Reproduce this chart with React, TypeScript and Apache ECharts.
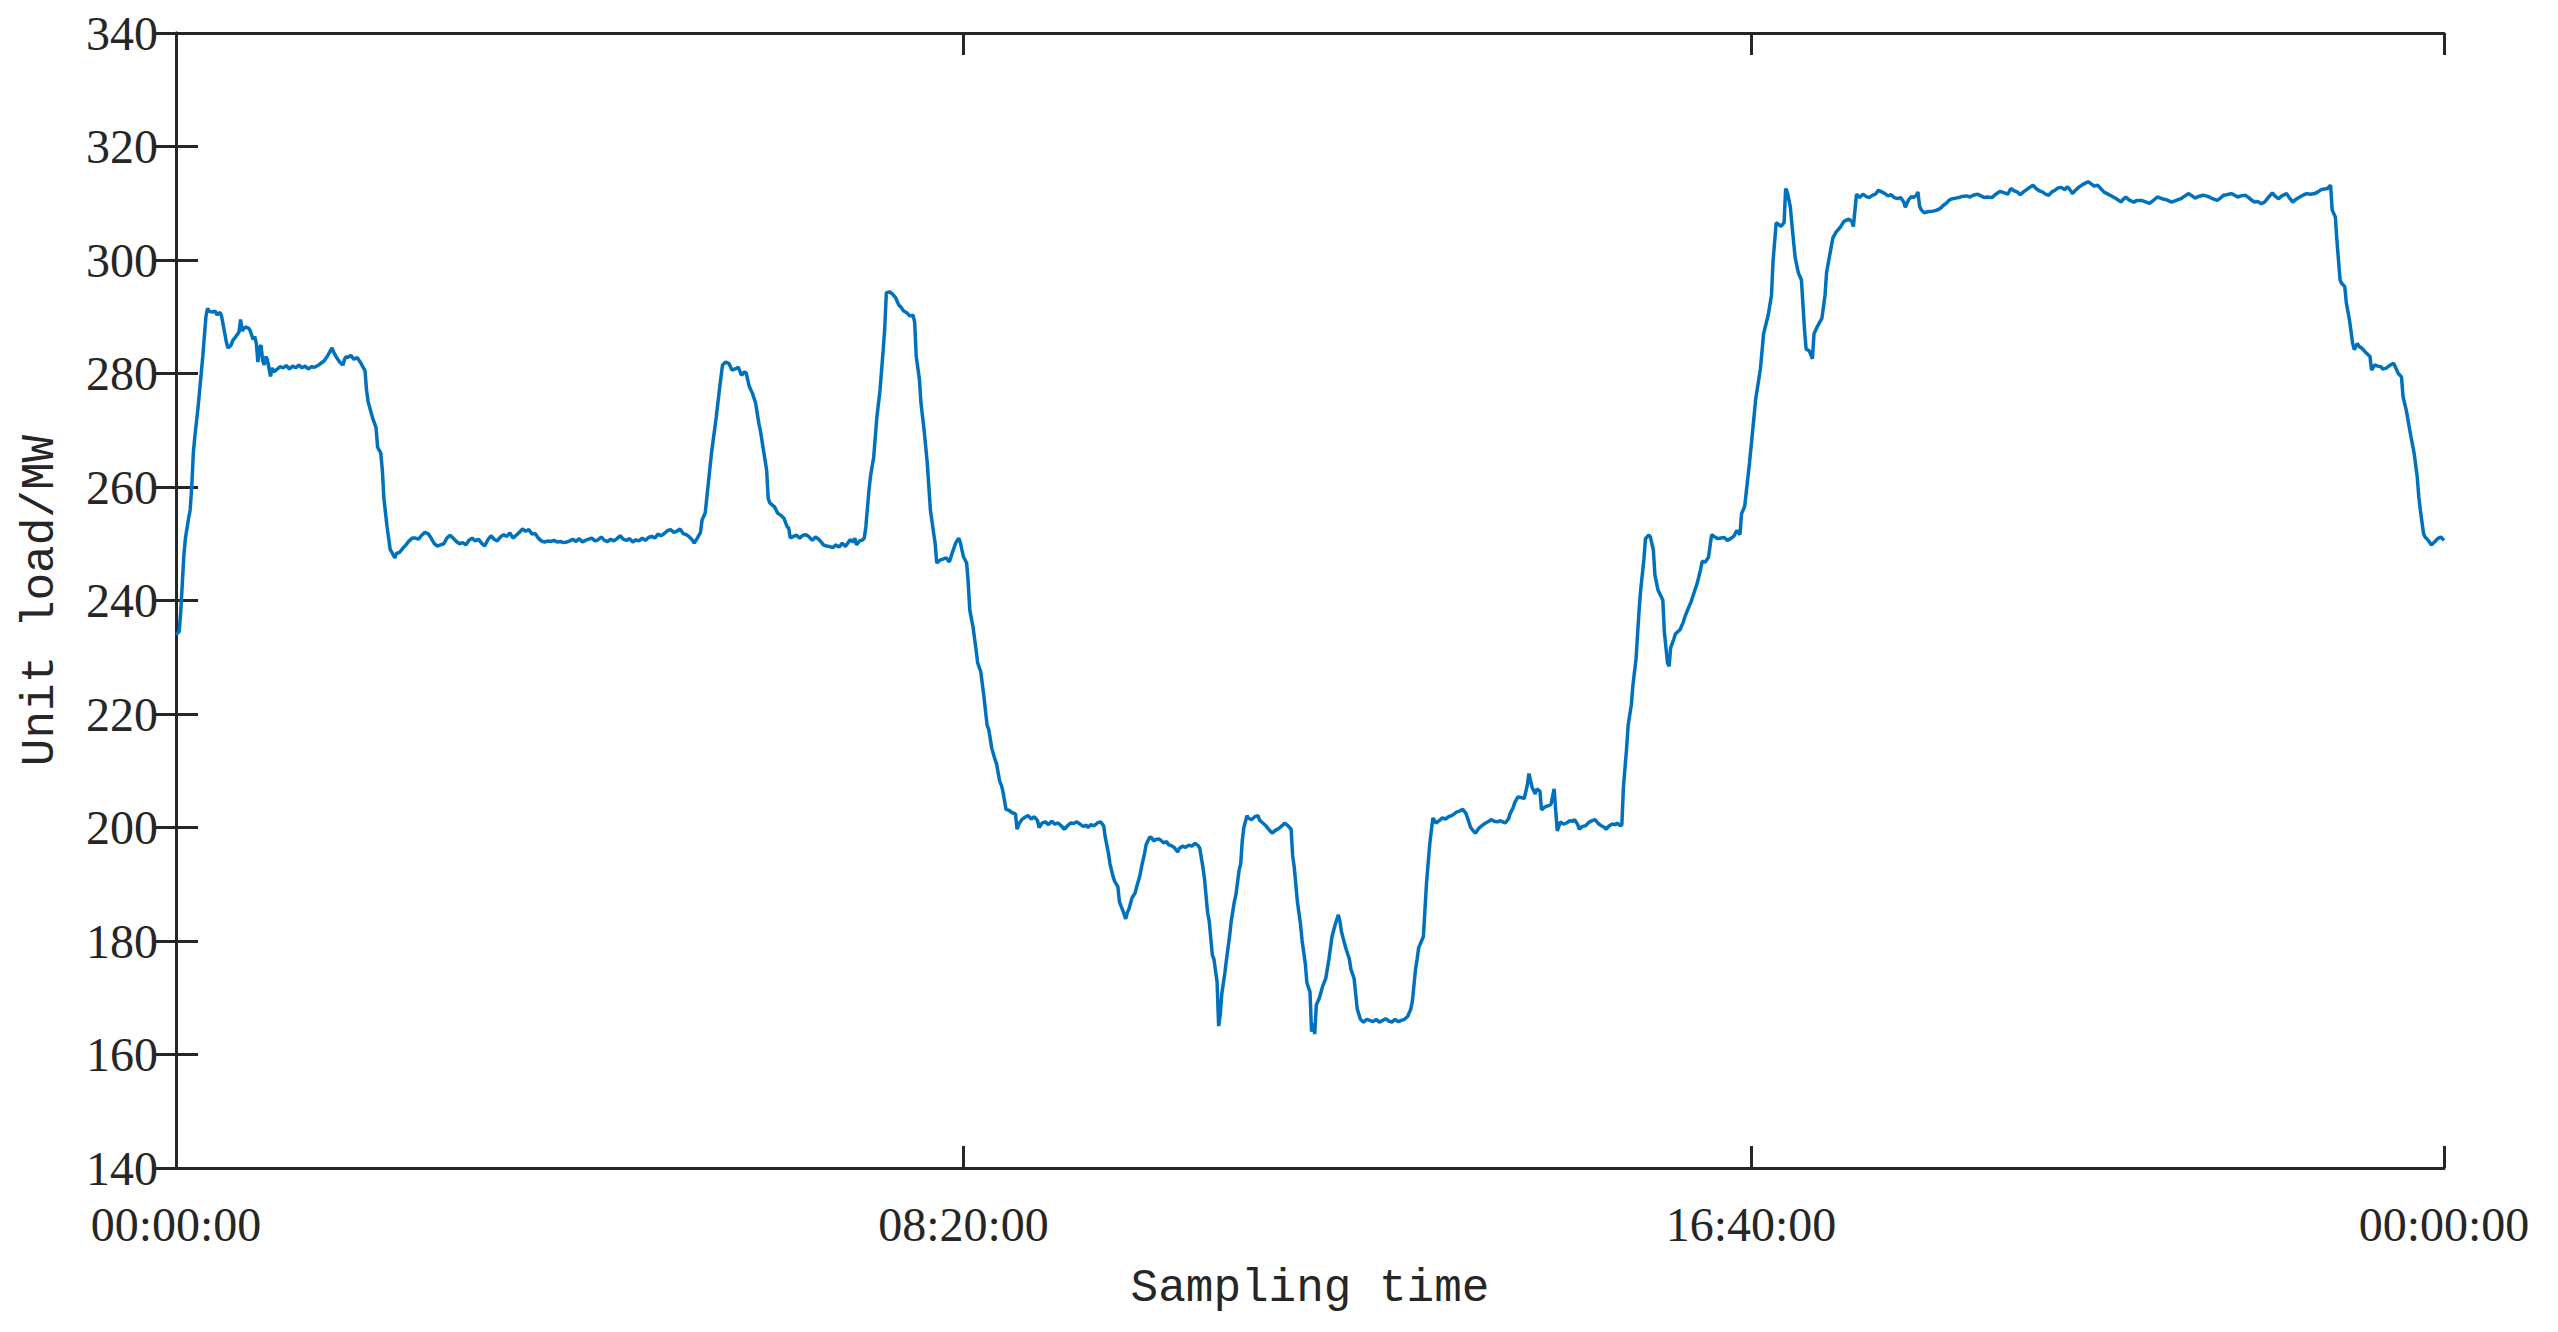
import React, { useEffect, useRef } from "react";
import * as echarts from "echarts";

// [minute of day, unit load MW]
const morningRamp: [number, number][] = [
  [0,234],[2,234.5],[3,238],[5,248],[6,251],[8,254.5],[9,256],[10,260],[11,266],[12,269],[14,274],[16,280],[17,283],[19,290],[20,291.5],[21,291],[23,290.8],[25,291],[26,290.3],[28,290.8],[29,290],[31,287],[32,285.5],[33,284.5],[35,285],[36,285.8],[38,286.5],[40,287.3],[41,289.5],[42,287.5],[44,288.2],[46,288],[47,287.6],[49,286],[50,286.5],[51,285.3],[52,282],[53,284.5],[54,285],[55,282.3],[56,281.5],[57,283],[58,282.5],[59,281],[60,279.5],[61,281],[62,280.3],[64,280.7],[66,281.2],[68,281],[70,281.4],[72,280.8],[74,281.3],[76,281],[78,281.5],[80,281],[82,281.3],[84,280.8],[86,281.2],[88,281.1],[90,281.4],[92,281.8],[94,282.2],[96,283],[98,284],[99,284.5],[100,283.8],[102,282.8],[104,282],[106,281.5],[107,282.5],[108,283],[109,282.8],[111,283.2],[113,282.5],[115,282.8],[117,282],[118,281.5],[120,280.5],[121,277],[122,275],[124,273],[125,272],[127,270.5],[128,267],[130,266],[131,263],[132,258],[133,255.5],[134,253],[135,251],[136,249],[137,248.5],[138,248],[139,247.5],[140,248.3],
];

const morningPlateau: [number, number][] = [
  [142,248.5],[144,249.2],[146,249.8],[148,250.5],[150,251],[152,251],[154,250.8],[156,251.5],[158,252],[160,251.8],[162,251],[164,250],[166,249.6],[168,249.8],[170,250],[172,251],[174,251.5],[176,251],[178,250.4],[180,250],[182,250.2],[184,249.8],[186,250.6],[188,251],[190,250.5],[192,250.8],[194,250.1],[196,249.6],[198,250.7],[200,251.4],[202,250.8],[204,250.5],[206,251.2],[208,251.6],[210,251.3],[212,251.9],[214,251],[216,251.5],[218,252],[220,252.6],[222,252.2],[224,252.5],[226,251.7],[228,251.8],[230,251],[232,250.5],[234,250.3],[236,250.5],[238,250.4],[240,250.6],[242,250.3],[244,250.4],[246,250.2],[248,250.3],[250,250.5],[252,250.8],[254,250.4],[256,250.9],[258,250.3],[260,250.6],[262,250.8],[264,251],[266,250.5],[268,250.7],[270,251.2],[272,250.6],[274,250.4],[276,250.8],[278,250.5],[280,250.9],[282,251.4],[284,250.8],[286,250.6],[288,250.9],[290,250.3],[292,250.7],[294,250.5],[296,251],[298,250.6],[300,251.1],[302,251.3],[304,251],[306,251.7],[308,251.4],[310,251.8],[312,252.3],[314,252.5],[316,252],[318,252.2],[320,252.6],[322,251.8],[324,251.6],[326,251.2],[328,250.6],[329,250.1],[331,251],[333,252],[334,254.2],[336,255.4],
];

const twinPeaks: [number, number][] = [
  [338,260.7],[340,266],[343,272.3],[345,277.1],[347,281.5],[349,282],[351,281.8],[353,280.6],[355,280.8],[357,281.1],[359,279.7],[361,280.3],[362,280.1],[364,277.7],[366,276.5],[368,274.8],[370,271.3],[371,270],[373,266.5],[375,263],[376,258],[377,257.2],[380,256.5],[382,255.4],[384,255],[386,254.5],[388,253],[389,252.8],[390,251],[392,251.3],[394,251.5],[396,251],[398,251.5],[400,251.6],[402,251.2],[404,250.6],[406,251.2],[408,250.8],[410,250.2],[411,249.8],[413,249.6],[415,249.5],[417,249.3],[419,249.8],[421,249.4],[423,250.1],[425,249.5],[427,250.3],[428,250.7],[430,250.3],[431,251],[432,249.8],[434,250.5],[436,250.7],[437,251],[438,253],[440,259.5],[441,262],[443,265.3],[445,272.3],[447,277.1],[449,284.1],[450,288],[451,294.2],[453,294.4],[455,294],[457,293.3],[459,292],[460,291.8],[462,291],[464,290.7],[466,290.1],[468,290.3],[469,289],[470,283],[472,279],[473,274.8],[475,270],[477,264.2],[479,255.9],[481,252],[482,250.1],[483,246.6],[485,247.1],[487,247.3],[489,247.5],[491,246.8],[493,248.5],[495,250.1],[497,251],[498,250.2],[500,247.7],[502,246.6],[503,243.1],[504,238.3],[506,235.4],[508,231.3],
];

const middayValley: [number, number][] = [
  [509,229],[511,227.4],[513,223],[515,218],[516,217.3],[518,213.9],[520,212],[521,211.2],[523,208.1],[524,207.5],[525,206.4],[527,203.2],[529,203],[531,202.6],[533,202.4],[534,199.7],[535,200.5],[537,201.4],[539,201.8],[541,202.1],[543,201.5],[545,201.9],[547,201.2],[548,200],[550,200.8],[552,201],[554,200.5],[556,201.1],[558,200.6],[560,200.8],[562,200.3],[564,199.7],[566,200.3],[568,200.8],[570,200.7],[572,201],[574,200.6],[576,200.2],[578,200.4],[579,200],[581,200.5],[583,200.3],[585,200.8],[587,201],[589,200.3],[590,198.3],[592,195.5],[593,193.6],[595,191.3],[596,190.5],[598,189.6],[599,186.9],[601,185.5],[603,183.9],[604,185],[605,185.6],[607,187.6],[609,188.5],[610,189.6],[612,191.5],[613,193],[615,195.5],[616,197],[618,198.2],[619,198.3],[621,197.6],[622,197.9],[624,198],[626,197.6],[627,197.3],[629,197.5],[630,197],[632,196.8],[634,196.4],[636,195.7],[637,196.3],[639,196.7],[641,196.5],[643,196.9],[645,196.7],[647,197.2],[649,196.8],[650,196.4],[652,193],[653,191],[655,185],[656,183.5],[658,177.5],[659,176.8],[661,172.8],[662,165],[663,167],[664,170.7],[666,174.5],[667,176.8],[669,181],[670,183.5],[672,187],[673,188.2],[675,192.5],[676,193.6],[677,197.7],[678,200],[680,202.1],[681,201.6],[683,201.4],[685,201.9],[687,202.1],[688,201.3],[690,200.8],[692,200.3],[694,199.6],[696,199],[698,199.5],[700,199.8],[701,200],[703,200.5],[704,200.8],[706,200.3],[708,199.7],[709,195],[710,193],[712,186.9],[714,182.9],[715,180],[717,176.1],[718,172.7],[720,171],[721,164],[722,165.5],[723,163.6],[724,168.7],[726,170],[728,172],[730,173.4],[732,176.8],[734,180.8],[736,182.9],[738,184.6],[739,183.5],[740,181.6],[742,179.5],[743,178.5],[745,176.8],[746,175],[748,173.4],[750,168],[752,166.2],[754,165.7],[756,166.2],[758,166],[760,165.8],[762,166.2],[764,165.7],[766,166],[768,166.3],[770,165.9],[772,165.7],[774,166.2],[776,165.8],[778,166],[780,166.2],[782,166.7],[784,168],[785,169.4],[787,175],[788,176.8],[789,178.8],[792,180.8],[794,190.3],[796,197],[798,201.7],[800,200.8],[802,201.2],[804,201.7],[806,201.5],[808,201.9],[810,202.1],[812,202.5],[813,202.7],[815,202.9],[817,203.2],[819,202.5],[820,201.7],[822,200],[824,199.3],[825,199],[827,199.8],[829,200.3],[831,200.7],[833,201],[835,201.4],[837,201.1],[839,201],[841,201.2],[843,200.9],[844,200.8],[846,201.5],[847,202.4],[849,203.5],[850,204.4],[852,205.4],[854,205.3],[856,205.1],[858,207.5],[859,209.5],[861,207.1],[863,205.9],[864,206.8],[866,206.4],[867,203.1],[869,203.6],[871,203.8],[873,204.1],[875,206.8],[876,203],[877,199.4],[879,201],[881,200.6],[883,200.8],[885,201.2],[887,201.1],[888,201.4],[890,200.5],[891,199.7],[893,200.2],[895,200.3],[897,200.9],[899,201.2],[901,201.4],[903,200.7],[905,200.3],[907,200],[908,199.7],[910,200.3],[912,200.6],[914,200.5],[915,200.8],[917,200.3],[918,200.5],[919,207.1],[921,213.9],[922,218],[924,221.6],[925,225],[927,229.7],[929,238.5],[930,242],[932,247.2],[933,250.9],
];

const eveningRamp: [number, number][] = [
  [935,251.5],[936,251.3],[938,248.9],[939,244.5],[941,241.8],[944,240.1],[945,234.4],[947,229],[948,228.4],[949,231.7],[951,233.2],[952,234.1],[955,234.9],[957,236.2],[958,237.1],[960,238.5],[962,239.8],[964,241.5],[966,243.2],[968,245.5],[969,246.9],[971,246.8],[973,247.6],[975,251.6],[977,251.2],[979,250.9],[981,251],[983,251.1],[985,250.6],[987,250.9],[989,251.3],[991,252.3],[993,251.6],[994,255.3],[996,256.6],[999,264.1],[1001,269.8],[1003,275.5],[1006,280.9],[1008,287],[1011,290.4],[1013,293.8],[1014,299.8],[1016,306.6],[1018,306.2],[1019,305.9],[1021,306.6],[1022,312.6],[1023,312],[1025,309.3],[1026,306.2],[1028,300.5],[1030,297.8],[1032,296.5],[1034,287.7],[1035,284.3],[1037,284],[1039,282.6],[1040,287],[1042,288.2],[1045,289.7],[1047,293.8],[1048,297.8],[1050,300.9],[1052,303.9],[1054,304.9],[1057,305.9],[1059,306.8],[1062,307.2],[1064,306.8],[1065,305.9],
];

const eveningPlateau: [number, number][] = [
  [1067,311.6],[1069,311],[1071,311.6],[1073,311.2],[1075,311],[1077,311.4],[1079,311.6],[1081,312.3],[1083,312],[1085,311.7],[1087,311.3],[1089,311.5],[1091,311],[1093,310.8],[1095,311],[1097,310.2],[1098,309.3],[1100,310.6],[1102,311.2],[1103,311],[1105,311.4],[1106,312],[1107,309.5],[1108,308.9],[1110,308.3],[1112,308.5],[1115,308.6],[1117,308.7],[1119,308.9],[1121,309.3],[1122,309.6],[1124,310],[1126,310.6],[1128,310.8],[1130,310.9],[1132,311],[1134,311.2],[1137,311.3],[1139,311.1],[1141,311.4],[1144,311.6],[1146,311.3],[1148,311],[1150,311.1],[1153,311],[1155,311.5],[1158,312.1],[1160,311.9],[1163,311.6],[1165,312.6],[1167,312.2],[1169,312],[1171,311.5],[1173,312],[1175,312.4],[1177,312.8],[1179,313.2],[1181,312.6],[1183,312.2],[1185,312],[1187,311.6],[1189,311.4],[1191,312],[1193,312.3],[1195,312.7],[1197,312.8],[1199,312.4],[1201,312.9],[1203,312.2],[1204,311.7],[1206,312.3],[1208,312.8],[1210,313.2],[1212,313.5],[1214,313.8],[1216,313.4],[1218,313],[1220,313.2],[1222,312.6],[1224,312],[1226,311.7],[1228,311.4],[1230,311.1],[1232,310.8],[1235,310.2],[1236,310.6],[1238,311.1],[1240,310.6],[1243,310.2],[1245,310.5],[1248,310.5],[1250,310.3],[1253,310],[1255,310.4],[1258,311.1],[1261,310.8],[1264,310.6],[1267,310.2],[1270,310.5],[1273,310.8],[1275,311.2],[1278,311.7],[1280,311.3],[1282,310.9],[1284,311.2],[1287,311.4],[1289,311.3],[1291,311.1],[1293,310.8],[1296,310.5],[1298,310.9],[1300,311.4],[1302,311.5],[1305,311.7],[1307,311.4],[1309,311.1],[1311,311.3],[1314,311.4],[1316,311],[1318,310.5],[1320,310.2],[1322,310.3],[1324,309.9],[1326,310.2],[1327,310.5],[1329,311.2],[1331,311.8],[1333,311.2],[1335,310.8],[1337,311.3],[1340,311.7],[1342,310.9],[1344,310.2],[1346,310.7],[1349,311.2],[1351,311.5],[1353,311.7],[1355,311.6],[1358,311.7],[1360,312],[1362,312.4],[1364,312.5],[1366,312.6],[1368,313.2],
];

const nightDrop: [number, number][] = [
  [1369,308.8],[1371,307.6],[1372,303.5],[1374,296.5],[1375,295.9],[1377,295.3],[1378,292.4],[1380,289.4],[1382,285.3],[1383,284.2],[1385,285.3],[1386,284.8],[1388,284.4],[1390,283.8],[1393,283],[1394,280.6],[1396,281.5],[1398,281.3],[1400,281.2],[1401,280.8],[1403,280.9],[1405,281.3],[1406,281.5],[1408,281.8],[1411,280],[1413,279.4],[1414,275.9],[1416,273.6],[1419,268.9],[1421,266],[1423,261.8],[1424,258.3],[1425,255.9],[1427,251.8],[1428,251.2],[1430,250.6],[1432,249.8],[1434,250.3],[1436,250.9],[1438,251.2],[1440,250.6],
];

const yMin = 140;
const yMax = 340;
const yStep = 20;
const xMin = 0;
const xMax = 1440;
const xStep = 500;

const axisColor = "#262626";
const lineColor = "#0072BD";
const tickFont = '"Liberation Serif", "Times New Roman", serif';
const nameFont = '"Liberation Mono", "Courier New", monospace';

function fmtTime(v: number): string {
  const m = Math.round(v) % 1440;
  const hh = String(Math.floor(m / 60)).padStart(2, "0");
  const mm = String(m % 60).padStart(2, "0");
  return `${hh}:${mm}:00`;
}

export default function App() {
  const ref = useRef<HTMLDivElement>(null);
  useEffect(() => {
    if (!ref.current) return;
    const chart = echarts.init(ref.current, null, { renderer: "svg" });
    const data = [
      ...morningRamp,
      ...morningPlateau,
      ...twinPeaks,
      ...middayValley,
      ...eveningRamp,
      ...eveningPlateau,
      ...nightDrop,
    ];
    const tickStyle = { show: true, inside: true, length: 22, lineStyle: { color: axisColor, width: 3 } };
    const lineStyle = { show: true, lineStyle: { color: axisColor, width: 3 } };
    chart.setOption({
      animation: false,
      backgroundColor: "#ffffff",
      grid: { left: 176, right: 114, top: 33, bottom: 164, containLabel: false },
      xAxis: [
        {
          type: "value",
          min: xMin,
          max: xMax,
          interval: xStep,
          position: "bottom",
          name: "Sampling time",
          nameLocation: "middle",
          nameGap: 98,
          nameTextStyle: { fontFamily: nameFont, fontSize: 46, color: axisColor },
          axisLine: lineStyle,
          axisTick: tickStyle,
          splitLine: { show: false },
          axisLabel: {
            show: true,
            showMaxLabel: true,
            showMinLabel: true,
            margin: 32,
            fontFamily: tickFont,
            fontSize: 48,
            color: axisColor,
            formatter: (v: number) => fmtTime(v),
          },
        },
        {
          type: "value",
          min: xMin,
          max: xMax,
          interval: xStep,
          position: "top",
          axisLine: lineStyle,
          axisTick: tickStyle,
          axisLabel: { show: false },
          splitLine: { show: false },
        },
      ],
      yAxis: [
        {
          type: "value",
          min: yMin,
          max: yMax,
          interval: yStep,
          position: "left",
          name: "Unit load/MW",
          nameLocation: "middle",
          nameGap: 112,
          nameTextStyle: { fontFamily: nameFont, fontSize: 46, color: axisColor },
          axisLine: lineStyle,
          axisTick: tickStyle,
          splitLine: { show: false },
          axisLabel: {
            margin: 18,
            fontFamily: tickFont,
            fontSize: 48,
            color: axisColor,
          },
        },
        {
          type: "value",
          min: yMin,
          max: yMax,
          interval: yStep,
          position: "right",
          axisLine: lineStyle,
          axisTick: tickStyle,
          axisLabel: { show: false },
          splitLine: { show: false },
        },
      ],
      series: [
        {
          type: "line",
          xAxisIndex: 0,
          yAxisIndex: 0,
          data,
          showSymbol: false,
          symbol: "none",
          lineStyle: { color: lineColor, width: 3.5 },
          z: 3,
        },
      ],
    });
    return () => chart.dispose();
  }, []);
  return (
    <div
      ref={ref}
      style={{ position: "fixed", left: 0, top: 0, width: 2558, height: 1332, background: "#fff" }}
    />
  );
}
